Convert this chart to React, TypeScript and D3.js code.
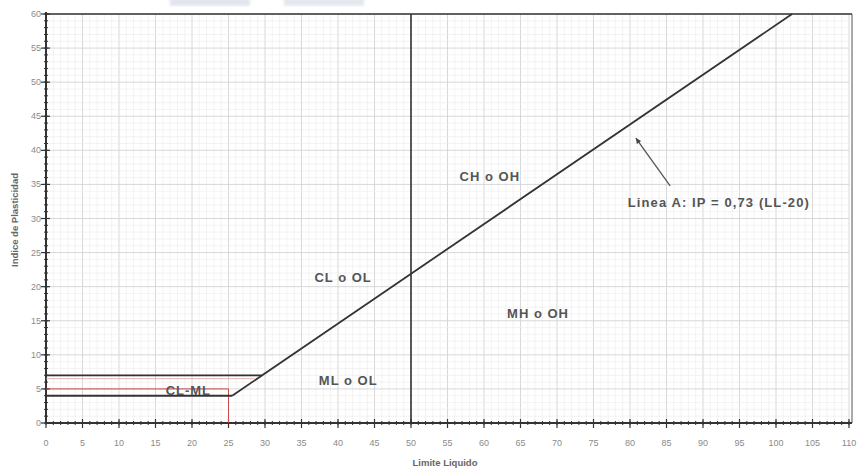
import React from "react";
import * as d3 from "d3";

const W = 857;
const H = 468;

const xTicks = d3.range(0, 111, 5);
const yTicks = d3.range(0, 61, 5);
const aLineStart = [25.5, 4];
const aLineEnd = [102.2, 60];
const hLine7 = [0, 29.6, 7];
const hLine4 = [0, 25.5, 4];
const redH5 = [0, 25, 5];
const redH6 = [0, 28.5, 6.5];
const redV25 = [25, 0, 5];
const vLine50 = [50, 0, 60];
const zoneLabels = ["CH o OH", "CL o OL", "MH o OH", "ML o OL", "CL-ML"];
const zoneLL = [60.8, 40.7, 67.4, 41.4, 19.5];
const zoneIP = [36.2, 21.4, 16.1, 6.3, 4.8];
const noteText = "Linea A: IP = 0,73 (LL-20)";
const noteLL = 79.7;
const noteIP = 32.4;
const arrowFrom = [85.5, 34.8];
const arrowTo = [80.8, 41.8];

export default function App() {
  const x = d3.scaleLinear().domain([0, 110]).range([46, 849]);
  const y = d3.scaleLinear().domain([0, 60]).range([423, 14]);
  const minorX = d3.range(0, 111, 1);
  const minorY = d3.range(0, 61, 1);
  const line = d3.line<number[]>().x((d) => x(d[0])).y((d) => y(d[1]));
  const dark = "#333";
  const font = "Liberation Sans, Arial, sans-serif";

  return (
    <svg width={W} height={H} style={{ position: "absolute", left: 0, top: 0, background: "#fff" }}>
      <defs>
        <filter id="blur"><feGaussianBlur stdDeviation="1.5" /></filter>
      </defs>
      <rect x={0} y={0} width={W} height={H} fill="#fff" />
      <rect x={170} y={-2} width={80} height={8} fill="#e3e5ee" filter="url(#blur)" />
      <rect x={284} y={-2} width={80} height={8} fill="#e5e7ef" filter="url(#blur)" />
      {/* grid */}
      {minorX.map((v) => (
        <line key={"gx" + v} x1={x(v)} x2={x(v)} y1={y(0)} y2={y(60)}
          stroke={v % 5 === 0 ? "#d4d4d4" : "#ebebeb"} strokeWidth={v % 5 === 0 ? 0.9 : 0.6} />
      ))}
      {minorY.map((v) => (
        <line key={"gy" + v} x1={x(0)} x2={x(110)} y1={y(v)} y2={y(v)}
          stroke={v % 5 === 0 ? "#d4d4d4" : "#ebebeb"} strokeWidth={v % 5 === 0 ? 0.9 : 0.6} />
      ))}
      {/* frame */}
      <line x1={x(0)} x2={x(110) + 3} y1={y(60)} y2={y(60)} stroke={dark} strokeWidth={1.6} />
      <line x1={x(110) + 3} x2={x(110) + 3} y1={y(60)} y2={y(0)} stroke="#555" strokeWidth={1} />
      <line x1={x(0)} x2={x(0)} y1={y(60) - 2} y2={y(0)} stroke={dark} strokeWidth={2} />
      <line x1={x(0)} x2={x(110) + 3} y1={y(0)} y2={y(0)} stroke={dark} strokeWidth={2} />
      {/* minor ticks */}
      {minorX.map((v) => (
        <line key={"tx" + v} x1={x(v)} x2={x(v)} y1={y(0) - 2} y2={y(0) + 2} stroke={dark} strokeWidth={1} />
      ))}
      {minorY.map((v) => (
        <line key={"ty" + v} x1={x(0) - 2} x2={x(0) + 2} y1={y(v)} y2={y(v)} stroke={dark} strokeWidth={1} />
      ))}
      {xTicks.map((v) => (
        <g key={"xt" + v}>
          <line x1={x(v)} x2={x(v)} y1={y(0) - 4} y2={y(0) + 5} stroke={dark} strokeWidth={1.2} />
          <text x={x(v)} y={y(0) + 23} textAnchor="middle" fontSize={9} fill="#8a8a8a" fontFamily={font}>{v}</text>
        </g>
      ))}
      {yTicks.map((v) => (
        <g key={"yt" + v}>
          <line x1={x(0) - 5} x2={x(0) + 4} y1={y(v)} y2={y(v)} stroke={dark} strokeWidth={1.2} />
          <text x={x(0) - 5} y={y(v) + 3} textAnchor="end" fontSize={9} fill="#8a8a8a" fontFamily={font}>{v}</text>
        </g>
      ))}
      {/* red lines */}
      <line x1={x(redH6[0])} x2={x(redH6[1])} y1={y(redH6[2])} y2={y(redH6[2])} stroke="#e0a0a0" strokeWidth={0.8} />
      <line x1={x(redH5[0])} x2={x(redH5[1])} y1={y(redH5[2])} y2={y(redH5[2])} stroke="#c84848" strokeWidth={1} />
      <line x1={x(redV25[0])} x2={x(redV25[0])} y1={y(redV25[1])} y2={y(redV25[2])} stroke="#c84848" strokeWidth={1} />
      {/* main lines */}
      <line x1={x(hLine7[0])} x2={x(hLine7[1])} y1={y(hLine7[2])} y2={y(hLine7[2])} stroke={dark} strokeWidth={1.8} />
      <line x1={x(hLine4[0])} x2={x(hLine4[1])} y1={y(hLine4[2])} y2={y(hLine4[2])} stroke={dark} strokeWidth={1.8} />
      <path d={line([aLineStart, aLineEnd]) || ""} stroke={dark} strokeWidth={1.8} fill="none" />
      <line x1={x(vLine50[0])} x2={x(vLine50[0])} y1={y(vLine50[1])} y2={y(vLine50[2])} stroke={dark} strokeWidth={1.6} />
      {/* labels */}
      {zoneLabels.map((t, i) => (
        <text key={t} x={x(zoneLL[i])} y={y(zoneIP[i]) + 5} textAnchor="middle" fontSize={13}
          letterSpacing={1} fontWeight="bold" fill="#555" fontFamily={font}>{t}</text>
      ))}
      <text x={x(noteLL)} y={y(noteIP) + 5} textAnchor="start" fontSize={13} fontWeight="bold" letterSpacing={1.1}
        fill="#555" fontFamily={font}>{noteText}</text>
      <line x1={x(arrowFrom[0])} y1={y(arrowFrom[1])} x2={x(arrowTo[0])} y2={y(arrowTo[1])} stroke="#555" strokeWidth={1.3} />
      <path d={(() => {
        const x0 = x(arrowFrom[0]), y0 = y(arrowFrom[1]), x1 = x(arrowTo[0]), y1 = y(arrowTo[1]);
        const ang = Math.atan2(y1 - y0, x1 - x0);
        const L = 6, s = 0.45;
        return `M${x1},${y1}L${x1 - L * Math.cos(ang - s)},${y1 - L * Math.sin(ang - s)}L${x1 - L * Math.cos(ang + s)},${y1 - L * Math.sin(ang + s)}Z`;
      })()} fill="#444" />
      {/* axis titles */}
      <text x={445} y={466} textAnchor="middle" fontSize={9.5} fontWeight="bold" fill="#666" fontFamily={font}>Limite Liquido</text>
      <text transform="translate(18,220) rotate(-90)" textAnchor="middle" fontSize={9.5} fontWeight="bold" fill="#666" fontFamily={font}>Indice de Plasticidad</text>
    </svg>
  );
}
